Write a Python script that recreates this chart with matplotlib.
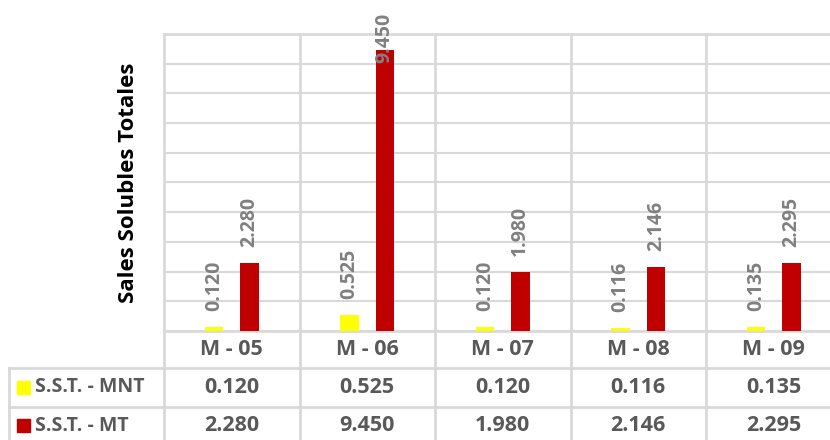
import matplotlib
matplotlib.use("Agg")
import matplotlib.pyplot as plt
from matplotlib.patches import Rectangle
import matplotlib.transforms as mtransforms

categories = ["M - 05", "M - 06", "M - 07", "M - 08", "M - 09"]
series_names = ["S.S.T. - MNT", "S.S.T. - MT"]
mnt_values = [0.120, 0.525, 0.120, 0.116, 0.135]
mt_values = [2.280, 9.450, 1.980, 2.146, 2.295]
colors = ["#FFFF00", "#C00000"]
y_label = "Sales Solubles Totales"

FONT = ["Open Sans", "DejaVu Sans"]
plt.rcParams["font.family"] = FONT

W, H = 830, 440
DPI = 100
fig = plt.figure(figsize=(W / DPI, H / DPI), dpi=DPI)

# pixel geometry
ax_left, ax_right, ax_top, ax_bottom = 164, 841.5, 34, 331
ax = fig.add_axes([ax_left / W, 1 - ax_bottom / H, (ax_right - ax_left) / W, (ax_bottom - ax_top) / H])
ax.set_xlim(-0.5, len(categories) - 0.5)
ax.set_ylim(0, 10)
ax.set_yticks(range(0, 11))
ax.set_yticklabels([])
ax.set_xticks([])
ax.tick_params(left=False, bottom=False)
for s in ax.spines.values():
    s.set_visible(False)
grid_c = "#D9D9D9"
ax.yaxis.grid(True, color=grid_c, linewidth=1.5)
ax.set_axisbelow(True)

px_h = (ax_bottom - ax_top)
def ypx(p):
    return -p / px_h

bw = 0.135
off = 0.13
series = [mnt_values, mt_values]
xs = list(range(len(categories)))
lab_c = "#808080"
lab_fs = 14
for si, vals in enumerate(series):
    sign = -1 if si == 0 else 1
    pos = [x + sign * off for x in xs]
    ax.bar(pos, vals, width=bw, color=colors[si], zorder=3)
    for x, v in zip(pos, vals):
        top_px = ax_bottom - v / 10 * px_h
        if top_px - 17 - 50 < 10:
            ax.text(x, 1 + 21 / px_h, f"{v:.3f}", rotation=90, ha="center", va="top",
                    transform=mtransforms.blended_transform_factory(ax.transData, ax.transAxes),
                    color=lab_c, fontsize=lab_fs, fontweight="bold", clip_on=False, zorder=4)
        else:
            ax.annotate(f"{v:.3f}", (x, v), xytext=(0, 16 * 72 / DPI), textcoords="offset points",
                        rotation=90, ha="center", va="bottom", color=lab_c,
                        fontsize=lab_fs, fontweight="bold", annotation_clip=False)

trans_x = mtransforms.blended_transform_factory(ax.transData, ax.transAxes)
lw = 2
tab_rows = [331, 368, 406.5, 445]
for b in [x - 0.5 for x in xs] + [len(xs) - 0.5]:
    ax.plot([b, b], [1, ypx(tab_rows[-1] - ax_bottom)], color=grid_c, lw=lw,
            transform=trans_x, clip_on=False, zorder=1)
for r in tab_rows[:3]:
    ax.plot([-0.5, len(xs) - 0.5], [ypx(r - ax_bottom)] * 2, color=grid_c, lw=lw,
            transform=trans_x, clip_on=False, zorder=2)
ax.plot([-0.5, len(xs) - 0.5], [1, 1], color=grid_c, lw=lw, transform=trans_x, clip_on=False)

def fx(p):
    return p / W
def fy(p):
    return 1 - p / H
for r in tab_rows[1:3]:
    fig.add_artist(plt.Line2D([fx(9), fx(ax_left)], [fy(r), fy(r)], color=grid_c, lw=lw))
fig.add_artist(plt.Line2D([fx(9), fx(9)], [fy(368), fy(445)], color=grid_c, lw=lw))

txt_c = "#595959"
num_fs = 15.5
cat_fs = 15.5
leg_fs = 14
for x, c in zip(xs, categories):
    ax.text(x, ypx((tab_rows[0] + tab_rows[1]) / 2 - ax_bottom), c, transform=trans_x,
            ha="center", va="center", fontsize=cat_fs, fontweight="bold", color=txt_c)
for si, vals in enumerate(series):
    yc = (tab_rows[si + 1] + tab_rows[si + 2]) / 2
    for x, v in zip(xs, vals):
        ax.text(x, ypx(yc - ax_bottom), f"{v:.3f}", transform=trans_x,
                ha="center", va="center", fontsize=num_fs, fontweight="bold", color=txt_c)
    fig.add_artist(Rectangle((fx(17), fy(yc + 6.5)), 13 / W, 13 / H, color=colors[si],
                             transform=fig.transFigure))
    fig.text(fx(35), fy(yc), series_names[si], ha="left", va="center", fontsize=leg_fs,
             fontweight="bold", color=txt_c)

fig.text(fx(128), fy(183), y_label, rotation=90, ha="center", va="center",
         fontsize=16, fontweight="bold", color="black")

fig.savefig("out.png", dpi=DPI, facecolor="white")
